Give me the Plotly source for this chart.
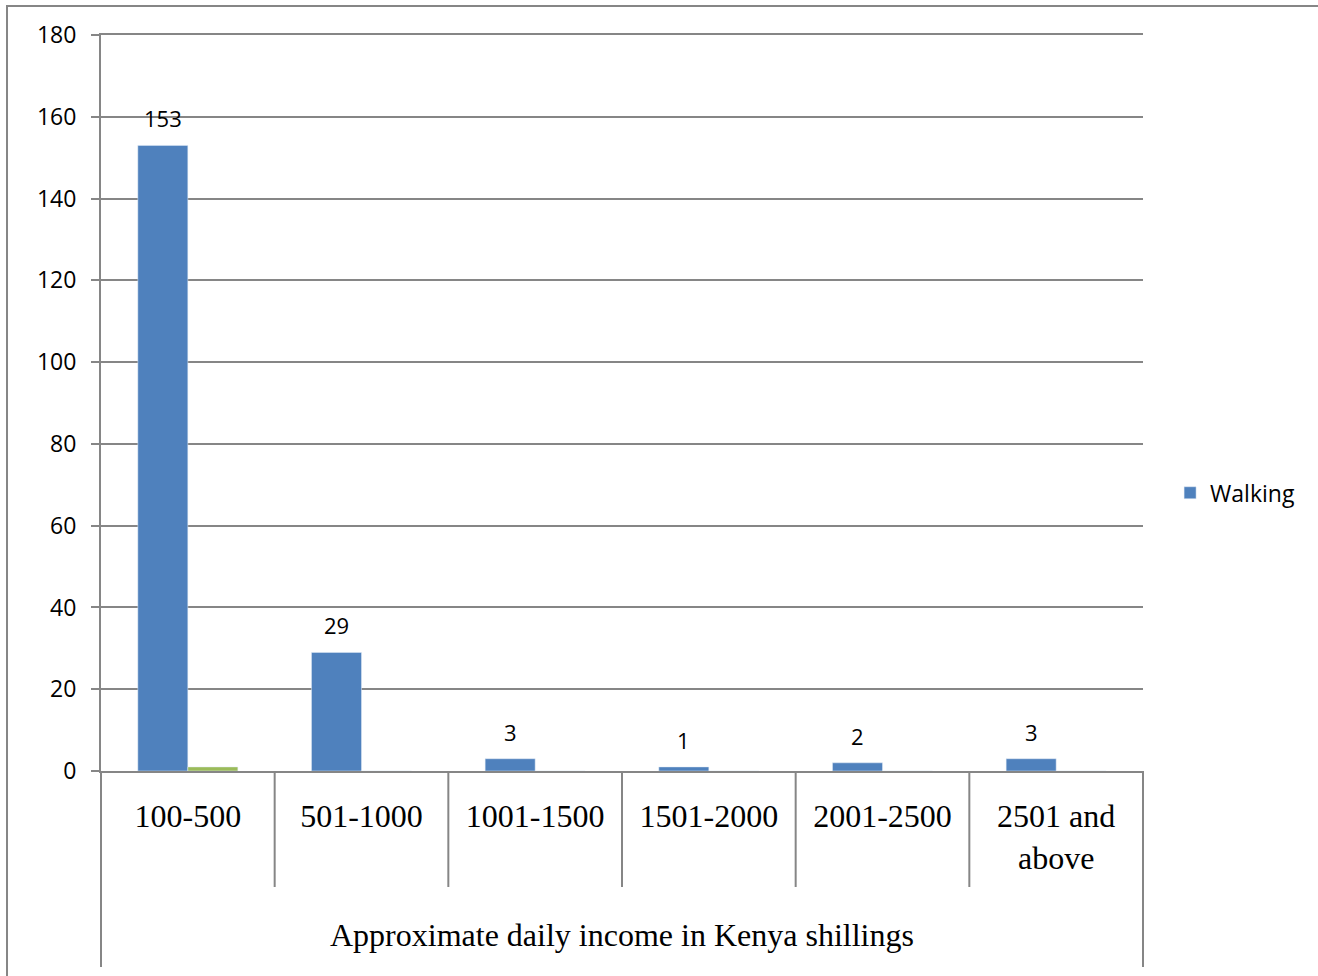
import plotly.graph_objects as go

categories = ["100-500", "501-1000", "1001-1500", "1501-2000", "2001-2500", "2501 and<br>above"]
walking = [153, 29, 3, 1, 2, 3]
other = [1, 0, 0, 0, 0, 0]
y_ticks = [0, 20, 40, 60, 80, 100, 120, 140, 160, 180]
x_title = "Approximate daily income in Kenya shillings"

GRAY = "#868686"
BLUE = "#4F81BD"
GREEN = "#9BBB59"
SANS = "Open Sans"
SERIF = "Liberation Serif"

fig = go.Figure()
fig.add_trace(go.Bar(
    x=categories, y=walking, name="Walking", marker_color=BLUE,
))
fig.add_trace(go.Bar(
    x=categories, y=other, name="Other", marker_color=GREEN,
    showlegend=False,
))

annotations = []
for c, v in zip(categories, walking):
    annotations.append(dict(x=c, y=v, xref="x", yref="y", text=str(v),
                            showarrow=False, xshift=-25, yshift=27,
                            xanchor="center", yanchor="middle",
                            font=dict(family=SANS, size=22, color="black")))
annotations.append(dict(text=x_title, xref="paper", yref="paper",
                        x=0.5, y=-0.2234, xanchor="center", yanchor="middle",
                        showarrow=False,
                        font=dict(family=SERIF, size=32, color="black")))

n = len(categories)
shapes = []
for i in range(1, n):
    shapes.append(dict(type="line", xref="x domain", yref="paper",
                       x0=i / n, x1=i / n, y0=0, y1=-0.1576,
                       line=dict(color=GRAY, width=2)))
for xv in (0, 1):
    shapes.append(dict(type="line", xref="x domain", yref="paper",
                       x0=xv, x1=xv, y0=0, y1=-0.2663,
                       line=dict(color=GRAY, width=2)))
shapes.append(dict(type="rect", xref="paper", yref="paper",
                   x0=-0.0902, x1=1.5, y0=-0.5, y1=1.0394,
                   line=dict(color=GRAY, width=2), fillcolor="rgba(0,0,0,0)"))

fig.update_layout(
    width=1318, height=976,
    margin=dict(l=101, r=175, t=35, b=205),
    paper_bgcolor="white", plot_bgcolor="white",
    barmode="group", bargap=0.424, bargroupgap=0,
    shapes=shapes, annotations=annotations,
    showlegend=True,
    legend=dict(x=1.026, y=0.378, xanchor="left", yanchor="middle",
                font=dict(family=SANS, size=23, color="black"),
                bgcolor="rgba(0,0,0,0)"),
)
fig.update_xaxes(
    showline=True, linecolor=GRAY, linewidth=2, mirror=True,
    ticks="", showgrid=False,
    tickfont=dict(family=SERIF, size=32, color="black"),
    ticklabelstandoff=16,
)
fig.update_yaxes(
    range=[0, 180], tickvals=y_ticks,
    showline=True, linecolor=GRAY, linewidth=2,
    ticks="outside", ticklen=8, tickcolor=GRAY, tickwidth=2,
    showgrid=True, gridcolor=GRAY, gridwidth=1.5,
    zeroline=False,
    tickfont=dict(family=SANS, size=23, color="black"),
    ticklabelstandoff=10,
)

fig.write_html("out.html")
